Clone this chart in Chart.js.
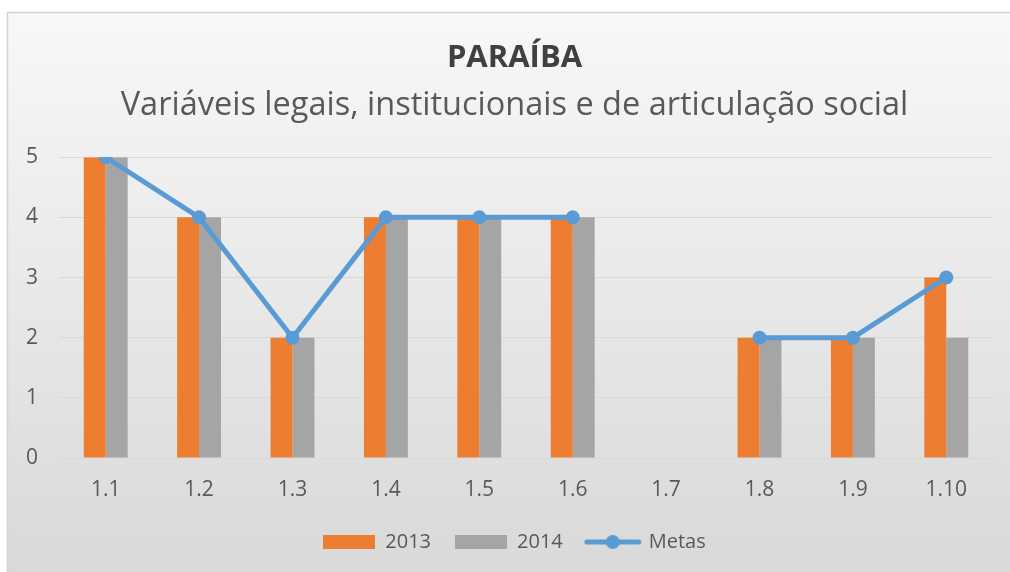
<!DOCTYPE html>
<html>
<head>
<meta charset="utf-8">
<script src="https://cdn.jsdelivr.net/npm/chart.js@4.4.1/dist/chart.umd.min.js"></script>
<style>
html,body{margin:0;padding:0;background:#ffffff;}
#wrap{width:1010px;height:572px;position:relative;}
</style>
</head>
<body>
<div id="wrap"><canvas id="c" width="1010" height="572"></canvas></div>
<script>
const categories = ['1.1','1.2','1.3','1.4','1.5','1.6','1.7','1.8','1.9','1.10'];
const values2013 = [5, 4, 2, 4, 4, 4, null, 2, 2, 3];
const values2014 = [5, 4, 2, 4, 4, 4, null, 2, 2, 2];
const metas = [5, 4, 2, 4, 4, 4, null, 2, 2, 3];
const yTicks = [0, 1, 2, 3, 4, 5];
const seriesNames = ['2013', '2014', 'Metas'];

const ORANGE = '#ed7d31', GRAY = '#a5a5a5', BLUE = '#5b9bd5', TEXT = '#595959';
const FONT = "'Open Sans', 'Noto Sans', sans-serif";

function rectImg(color) {
  const c = document.createElement('canvas');
  c.width = 52; c.height = 14;
  const x = c.getContext('2d');
  x.fillStyle = color; x.fillRect(0, 0, 52, 14);
  return c;
}
function lineImg() {
  const c = document.createElement('canvas');
  c.width = 58; c.height = 16;
  const x = c.getContext('2d');
  x.strokeStyle = BLUE; x.lineWidth = 5; x.lineCap = 'round';
  x.beginPath(); x.moveTo(3, 8); x.lineTo(55, 8); x.stroke();
  x.fillStyle = BLUE; x.beginPath(); x.arc(29, 8, 7, 0, Math.PI * 2); x.fill();
  return c;
}
const legendImgs = [rectImg(ORANGE), rectImg(GRAY), lineImg()];

const bgPlugin = {
  id: 'bg',
  beforeDraw(chart) {
    const ctx = chart.ctx;
    ctx.save();
    ctx.fillStyle = '#ffffff';
    ctx.fillRect(0, 0, chart.width, chart.height);
    const g = ctx.createLinearGradient(0, 12, 0, chart.height);
    g.addColorStop(0, '#f8f8f8');
    g.addColorStop(1, '#d9d9d9');
    ctx.fillStyle = g;
    ctx.fillRect(7, 12, chart.width - 7, chart.height - 12);
    ctx.strokeStyle = '#d4d4d4';
    ctx.lineWidth = 1.5;
    ctx.beginPath();
    ctx.moveTo(7.5, chart.height); ctx.lineTo(7.5, 12.5); ctx.lineTo(chart.width, 12.5);
    ctx.stroke();
    ctx.restore();
  }
};

// centre title, subtitle and legend on the framed panel rather than the canvas
const boxShift = {
  id: 'boxShift',
  afterLayout(chart) {
    chart.boxes.forEach(b => {
      if (b.axis === undefined) { b.left += 36; }
    });
    const l = chart.legend;
    if (l) { l.top -= 14; l.bottom -= 14; }
  }
};

new Chart(document.getElementById('c'), {
  type: 'bar',
  data: {
    labels: categories,
    datasets: [
      { label: seriesNames[0], data: values2013, backgroundColor: ORANGE, order: 1,
        categoryPercentage: 0.47, barPercentage: 1.0 },
      { label: seriesNames[1], data: values2014, backgroundColor: GRAY, order: 1,
        categoryPercentage: 0.47, barPercentage: 1.0 },
      { label: seriesNames[2], data: metas, type: 'line', order: 0,
        borderColor: BLUE, backgroundColor: BLUE, borderWidth: 5,
        pointRadius: 7, pointHoverRadius: 7, pointBackgroundColor: BLUE, pointBorderWidth: 0,
        spanGaps: false, fill: false, tension: 0 }
    ]
  },
  options: {
    responsive: false,
    animation: false,
    devicePixelRatio: 1,
    layout: { padding: { left: 0, right: 17, top: 40, bottom: 0 } },
    plugins: {
      tooltip: { enabled: false },
      title: {
        display: true, text: 'PARAÍBA', color: '#404040',
        font: { family: FONT, size: 31, weight: 'bold' },
        padding: { top: 0, bottom: 9 }
      },
      subtitle: {
        display: true, text: 'Variáveis legais, institucionais e de articulação social', color: TEXT,
        font: { family: FONT, size: 32.5, weight: 'normal' },
        padding: { top: 0, bottom: 32 }
      },
      legend: {
        position: 'bottom',
        maxHeight: 50,
        labels: {
          color: TEXT,
          font: { family: FONT, size: 20 },
          usePointStyle: true,
          pointStyleWidth: 52,
          boxHeight: 14,
          padding: 24,
          generateLabels(chart) {
            return chart.data.datasets.map((ds, i) => ({
              text: ds.label,
              fillStyle: ds.backgroundColor,
              strokeStyle: ds.backgroundColor,
              lineWidth: 0,
              pointStyle: legendImgs[i],
              hidden: false,
              datasetIndex: i,
              fontColor: TEXT
            }));
          }
        }
      }
    },
    scales: {
      x: {
        grid: { display: false, drawTicks: false },
        border: { display: true, color: '#d9d9d9', width: 1 },
        ticks: { color: TEXT, font: { family: FONT, size: 21 }, padding: 19.4, maxRotation: 0 }
      },
      y: {
        min: 0, max: 5,
        afterFit(scale) { scale.width = 59; },
        afterBuildTicks(scale) { scale.ticks = yTicks.map(v => ({ value: v })); },
        grid: { color: '#d9d9d9', lineWidth: 1, drawTicks: false },
        border: { display: false },
        ticks: { color: TEXT, font: { family: FONT, size: 21 }, padding: 21 }
      }
    }
  },
  plugins: [bgPlugin, boxShift]
});
</script>
</body>
</html>
